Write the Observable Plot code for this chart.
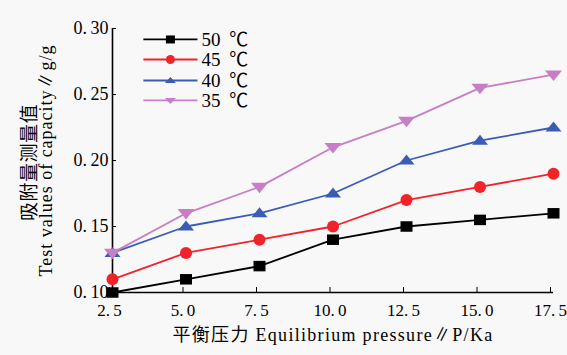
<!DOCTYPE html>
<html><head><meta charset="utf-8">
<script src="https://cdn.jsdelivr.net/npm/d3@7"></script>
<script src="https://cdn.jsdelivr.net/npm/@observablehq/plot@0.6"></script>
<style>
html,body{margin:0;padding:0;background:#f8f8f8;}
svg{background:#f8f8f8;}
</style>
</head><body><div id="chart"></div>
<script>
const pressure = [2.5, 5.0, 7.5, 10.0, 12.5, 15.0, 17.5];
const seriesNames = ["50\u00a0\u2009℃", "45\u00a0\u2009℃", "40\u00a0\u2009℃", "35\u00a0\u2009℃"];
const s50 = [0.10, 0.11, 0.12, 0.14, 0.15, 0.155, 0.16];
const s45 = [0.11, 0.13, 0.14, 0.15, 0.17, 0.18, 0.19];
const s40 = [0.13, 0.15, 0.16, 0.175, 0.20, 0.215, 0.225];
const s35 = [0.13, 0.16, 0.18, 0.21, 0.23, 0.255, 0.265];
const xTicks = [2.5, 5.0, 7.5, 10.0, 12.5, 15.0, 17.5];
const yTicks = [0.10, 0.15, 0.20, 0.25, 0.30];
const yLabelCN = "吸附量测量值";
const yLabelEN = "Test values of capacity∥g/g";
const xLabel = "平衡压力 Equilibrium pressure∥P/Ka";

const colors = ["#000000", "#f0232a", "#3a5cb4", "#c77ec6"];

function rectSym(w, h) {
  return {draw(ctx) { ctx.rect(-w / 2, -h / 2, w, h); }};
}
function circSym(r) {
  return {draw(ctx) { ctx.moveTo(r, 0); ctx.arc(0, 0, r, 0, 2 * Math.PI); ctx.closePath(); }};
}
function triSym(w, h, up) {
  const k = up ? 1 : -1;
  return {draw(ctx) {
    ctx.moveTo(0, -k * h * 0.6);
    ctx.lineTo(w / 2, k * h * 0.4);
    ctx.lineTo(-w / 2, k * h * 0.4);
    ctx.closePath();
  }};
}
const dataSymbols = [rectSym(12, 10.5), circSym(6), triSym(16, 10, true), triSym(17, 10.5, false)];
const legSymbols = [rectSym(9, 8), circSym(4.5), triSym(11, 6, true), triSym(11, 6, false)];

const allSeries = [s50, s45, s40, s35];
const data = [];
allSeries.forEach((vals, si) => vals.forEach((v, i) => data.push({x: pressure[i], y: v, s: si})));

// legend rows (positioned in data space)
const legY = [0.2917, 0.2765, 0.2606, 0.2455];
const legend = seriesNames.map((n, i) => ({name: n, s: i, y: legY[i]}));

const font = "'Liberation Serif', 'Noto Sans CJK SC', serif";
const marks = [
  Plot.axisX({ticks: xTicks, tickSize: -5, tickPadding: 16, dx: -3, tickFormat: d => d.toFixed(1).replace(".", ".\u2009"), fontSize: 17, label: null, stroke: "#000"}),
  Plot.axisY({ticks: yTicks, tickSize: -4, tickPadding: 8, tickFormat: d => d.toFixed(2).replace(".", ".\u2009"), fontSize: 18, label: null}),
  Plot.ruleX([2.5], {stroke: "#000", strokeWidth: 1.6}),
  Plot.ruleY([0.10], {stroke: "#000", strokeWidth: 1.6}),
];
for (let si = 0; si < 4; si++) {
  const d = data.filter(p => p.s === si);
  marks.push(Plot.line(d, {x: "x", y: "y", stroke: colors[si], strokeWidth: 1.8}));
  marks.push(Plot.dot(d, {x: "x", y: "y", fill: colors[si], stroke: "none", symbol: dataSymbols[si], r: 5}));
  const l = legend.filter(p => p.s === si);
  marks.push(Plot.link(l, {x1: 3.55, x2: 5.39, y1: "y", y2: "y", stroke: colors[si], strokeWidth: 1.8}));
  marks.push(Plot.dot(l, {x: 4.47, y: "y", fill: colors[si], stroke: "none", symbol: legSymbols[si], r: 4}));
  marks.push(Plot.text(l, {x: 5.53, y: "y", text: "name", textAnchor: "start", fontSize: 19, fill: "#000"}));
}
marks.push(Plot.text([yLabelCN], {frameAnchor: "left", textAnchor: "middle", dx: -83, dy: 2, rotate: -90, fontSize: 19, fill: "#000", fontFamily: "'Noto Sans CJK SC', serif"}));
marks.push(Plot.text([yLabelEN], {frameAnchor: "left", textAnchor: "middle", dx: -66, rotate: -90, fontSize: 18, fill: "#000"}));
marks.push(Plot.text([xLabel], {frameAnchor: "bottom", textAnchor: "middle", dy: 48, fontSize: 18, fill: "#000"}));

const chart = Plot.plot({
  width: 567, height: 355,
  marginLeft: 112, marginRight: 14, marginTop: 28, marginBottom: 63,
  x: {domain: [2.5, 17.5]},
  y: {domain: [0.10, 0.30]},
  style: {fontFamily: font, background: "#f8f8f8", color: "#000"},
  marks
});
// letter spacing for the SimSun-like wide axis titles
chart.querySelectorAll("text").forEach(t => {
  const s = t.textContent;
  if (s === yLabelEN) t.style.letterSpacing = "1px";
  else if (s === yLabelCN) t.style.letterSpacing = "0.5px";
  else if (s === xLabel) t.style.letterSpacing = "1.3px";
});
document.getElementById("chart").appendChild(chart);
</script>
</body></html>
